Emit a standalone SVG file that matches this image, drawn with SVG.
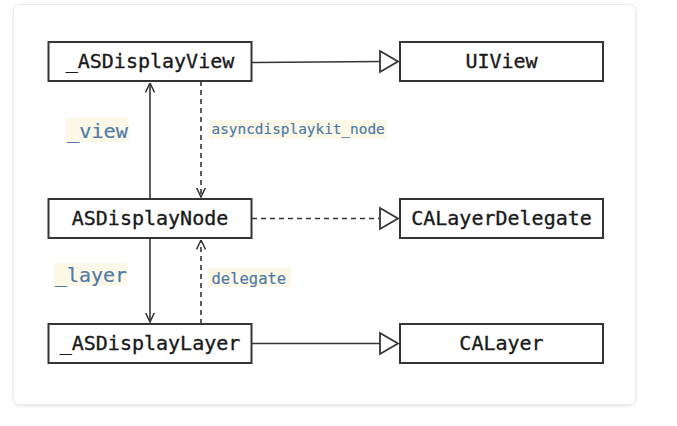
<svg xmlns="http://www.w3.org/2000/svg" width="677" height="426" viewBox="0 0 677 426">
<style>
.box{fill:#fff;stroke:#353535;stroke-width:2}
.nt{font-family:"DejaVu Sans Mono","Liberation Mono",monospace;font-size:20px;fill:#1a1a1a;stroke:#1a1a1a;stroke-width:0.35;text-anchor:middle}
.lt{font-family:"DejaVu Sans Mono","Liberation Mono",monospace;fill:#4f7ba6;stroke:#4f7ba6;stroke-width:0.2}
.hl{fill:#fcf8e8}
.ln{fill:none;stroke:#353535;stroke-width:1.6}
.dash{stroke-dasharray:5 4}
.tri{fill:#fff;stroke:#353535;stroke-width:1.8;stroke-linejoin:miter}
</style>
<defs>
<filter id="sh" x="-5%" y="-5%" width="110%" height="110%">
<feDropShadow dx="0" dy="1" stdDeviation="1.5" flood-color="#000" flood-opacity="0.12"/>
</filter>
<marker id="open" viewBox="0 0 10 10" refX="9.5" refY="5" markerWidth="10" markerHeight="10" markerUnits="userSpaceOnUse" orient="auto">
<path d="M0,0.5 L9.5,5 L0,9.5" fill="none" stroke="#353535" stroke-width="1.5"/>
</marker>
</defs>
<rect x="0" y="0" width="677" height="426" fill="#fff"/>
<rect x="13.5" y="4.5" width="622" height="400" rx="6" fill="#fff" stroke="#ebebeb" filter="url(#sh)"/>

<g id="connectors">
<path class="ln" d="M252,62.5 L381,61.5"/>
<polygon class="tri" points="380,51 398,61.5 380,72"/>
<path class="ln" d="M252,343.5 L381,343.5"/>
<polygon class="tri" points="380,333 398,343.5 380,354"/>
<path class="ln dash" d="M252,218.5 L381,218.5"/>
<polygon class="tri" points="380,208 398,218.5 380,229"/>
<path class="ln" d="M150,199 L150,83" marker-end="url(#open)"/>
<path class="ln dash" d="M201,81 L201,197" marker-end="url(#open)"/>
<path class="ln" d="M150,238 L150,322" marker-end="url(#open)"/>
<path class="ln dash" d="M201,324 L201,240" marker-end="url(#open)"/>
<rect class="hl" x="66" y="118" width="63" height="24"/>
<text class="lt" x="67" y="137.5" font-size="20" textLength="61" lengthAdjust="spacingAndGlyphs">_view</text>
<rect class="hl" x="209" y="120" width="178" height="19"/>
<text class="lt" x="211.5" y="133.5" font-size="14.4">asyncdisplaykit_node</text>
<rect class="hl" x="54" y="263" width="73" height="23"/>
<text class="lt" x="55" y="281.5" font-size="20" textLength="72" lengthAdjust="spacingAndGlyphs">_layer</text>
<rect class="hl" x="208" y="268" width="83" height="19"/>
<text class="lt" x="211.5" y="283.5" font-size="15.5">delegate</text>
</g>

<g id="n_asdisplayview">
<rect class="box" x="48.5" y="42" width="203" height="39"/>
<text class="nt" x="150" y="68">_ASDisplayView</text>
</g>
<g id="n_uiview">
<rect class="box" x="400" y="42" width="203" height="39"/>
<text class="nt" x="501.5" y="68">UIView</text>
</g>
<g id="n_asdisplaynode">
<rect class="box" x="48.5" y="199" width="203" height="39"/>
<text class="nt" x="150" y="225">ASDisplayNode</text>
</g>
<g id="n_calayerdelegate">
<rect class="box" x="400" y="199" width="203" height="39"/>
<text class="nt" x="501.5" y="225">CALayerDelegate</text>
</g>
<g id="n_asdisplaylayer">
<rect class="box" x="48.5" y="324" width="203" height="39"/>
<text class="nt" x="150" y="350">_ASDisplayLayer</text>
</g>
<g id="n_calayer">
<rect class="box" x="400" y="324" width="203" height="39"/>
<text class="nt" x="501.5" y="350">CALayer</text>
</g>
</svg>
